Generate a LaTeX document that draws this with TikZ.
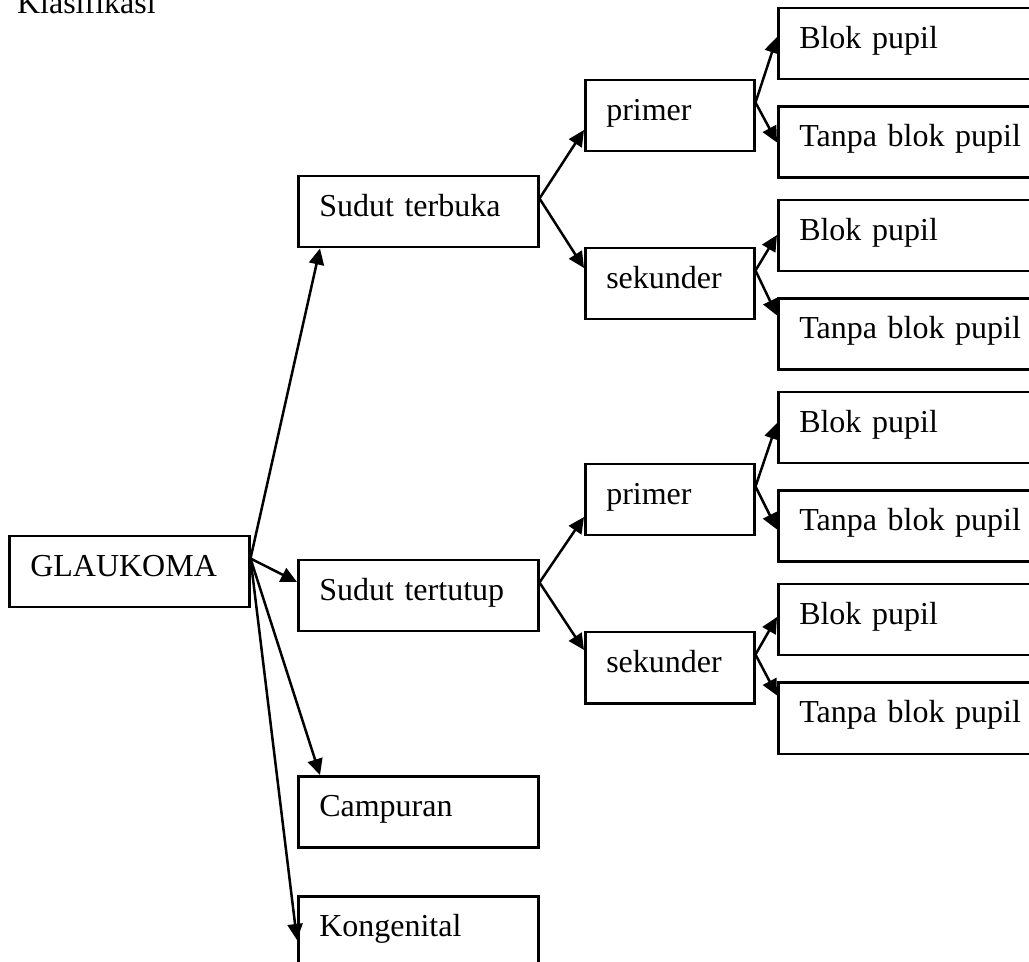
\documentclass[tikz,border=0pt]{standalone}
\usepackage{fontspec}
\setmainfont{Liberation Serif}
\usetikzlibrary{positioning, arrows.meta, calc}
\newcommand{\klasarrow}{-{Triangle[length=8pt,width=7.5pt]}}
\newcommand{\klasfont}{\fontsize{16}{19}\selectfont}

\tikzset{
  garis/.style={line width=1.25pt},
  kotak/.style={draw, garis, anchor=north west, inner xsep=10.5pt, inner ysep=0pt,
    text height=20pt, text depth=15.5pt, align=left, font=\klasfont},
  lebar/.style={kotak, text width=99pt},
  sedang/.style={kotak, text width=63.5pt},
  ujung/.style={kotak, text width=111.5pt}
}

\begin{document}
\begin{tikzpicture}[x=0.5pt, y=-0.5pt]
            \useasboundingbox (0,0) rectangle (1029,962);
            \clip (0,0) rectangle (1029,962);

            \node[anchor=base west, font=\klasfont] (judul) at (10,14) {Klasifikasi};

            % first level
            \node[lebar] (glaukoma) at (8,535) {GLAUKOMA};
            \node[lebar] (terbuka) at (297,175) {Sudut terbuka};
            \node[lebar] (tertutup) at (297,559) {Sudut tertutup};
            \node[lebar] (campuran) at (297,775) {Campuran};
            \node[lebar] (kongenital) at (297,895) {Kongenital};

            % second level
            \node[sedang] (primerA) at (584,79) {primer};
            \node[sedang] (sekunderA) at (584,247) {sekunder};
            \node[sedang] (primerB) at (584,463) {primer};
            \node[sedang] (sekunderB) at (584,631) {sekunder};

            % third level
            \node[ujung] (blokA1) at (777,7) {Blok pupil};
            \node[ujung, below=12.5pt of blokA1] (tanpaA1) {Tanpa blok pupil};
            \node[ujung] (blokA2) at (777,199) {Blok pupil};
            \node[ujung, below=12.5pt of blokA2] (tanpaA2) {Tanpa blok pupil};
            \node[ujung] (blokB1) at (777,391) {Blok pupil};
            \node[ujung, below=12.5pt of blokB1] (tanpaB1) {Tanpa blok pupil};
            \node[ujung] (blokB2) at (777,583) {Blok pupil};
            \node[ujung, below=12.5pt of blokB2] (tanpaB2) {Tanpa blok pupil};

            \draw[garis, \klasarrow] ($(glaukoma.north east)+(0,23.5)$) -- ($(terbuka.south west)+(23,0)$);
            \draw[garis, \klasarrow] ($(glaukoma.north east)+(0,23.5)$) -- ($(tertutup.north west)+(0,23)$);
            \draw[garis, \klasarrow] ($(glaukoma.north east)+(0,23.5)$) -- ($(campuran.north west)+(23,0)$);
            \draw[garis, \klasarrow] ($(glaukoma.north east)+(0,23.5)$) -- ($(kongenital.north west)+(0,45)$);

            \foreach \asal/\tuju/\dy in {terbuka/primerA/51, terbuka/sekunderA/21,
                tertutup/primerB/54, tertutup/sekunderB/19,
                primerA/blokA1/30, primerA/tanpaA1/37, sekunderA/blokA2/36, sekunderA/tanpaA2/18,
                primerB/blokB1/32, primerB/tanpaB1/40, sekunderB/blokB2/34, sekunderB/tanpaB2/14}
              \draw[garis, \klasarrow] ($(\asal.north east)+(0,23.5)$) -- ($(\tuju.north west)+(0,\dy)$);
        \end{tikzpicture}
\end{document}
